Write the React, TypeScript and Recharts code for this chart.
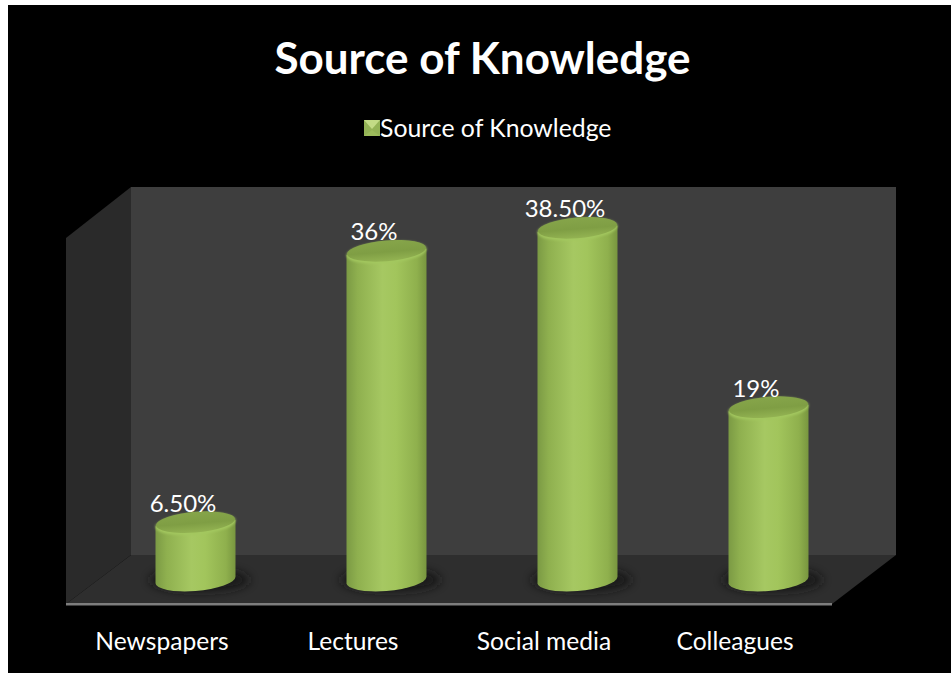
import { Bar, BarChart, LabelList, Legend, XAxis, YAxis } from 'recharts';

const categories = ['Newspapers', 'Lectures', 'Social media', 'Colleagues'];
const shares = [6.5, 36, 38.5, 19];
const shareLabels = ['6.50%', '36%', '38.50%', '19%'];
const seriesName = 'Source of Knowledge';

const chartData = categories.map((name, i) => ({ name, share: shares[i], label: shareLabels[i] }));

const FONT = 'Lato, Carlito, sans-serif';
const RY = 11;

// one cylinder, sheared a little so the ellipses lean like a perspective view
function Cylinder(props: any) {
  const { x, y, width, height } = props;
  const rx = width / 2;
  const cx = x + rx;
  const bottom = y + height - 3;
  const shear = `translate(${cx} 0) skewY(-4.5) translate(${-cx} 0)`;
  const body = `M${x} ${y} L${x} ${bottom} A${rx} ${RY} 0 0 0 ${x + width} ${bottom} L${x + width} ${y} Z`;
  return (
    <g>
      <ellipse cx={cx + 4} cy={bottom} rx={rx + 10} ry={RY + 1} fill="#141414" opacity={0.85} filter="url(#footBlur)" />
      <g transform={shear}>
        <path d={body} fill="url(#cylBody)" />
        <ellipse cx={cx} cy={y + 0.5} rx={rx} ry={RY} fill="#a3c75f" filter="url(#rimBlur)" />
        <ellipse cx={cx} cy={y - 1} rx={rx - 0.5} ry={RY - 0.6} fill="url(#cylTop)" />
      </g>
    </g>
  );
}

function ShareLabel(props: any) {
  const { x, y, width, value } = props;
  return (
    <text x={x + width / 2 - 12.5} y={y - 20} dy="0.36em" textAnchor="middle" fill="#fff" fontFamily={FONT} fontSize={24}>
      {value}
    </text>
  );
}

function LegendRow() {
  return (
    <div style={{ position: 'absolute', left: 364, top: 112, display: 'flex', alignItems: 'center', height: 30, whiteSpace: 'nowrap' }}>
      <svg width={16} height={16} style={{ marginTop: 2 }}>
        <rect width={16} height={16} fill="#94b356" />
        <polygon points="0,0 16,0 8,9" fill="#c3db86" />
        <polygon points="0,16 16,16 8,10" fill="#9dbc5c" />
      </svg>
      <span style={{ color: '#fff', fontFamily: FONT, fontSize: 24.8 }}>{seriesName}</span>
    </div>
  );
}

export default function App() {
  return (
    <div style={{ position: 'absolute', left: 0, top: 0, width: 951, height: 673, background: '#fff', overflow: 'hidden' }}>
      <div style={{ position: 'absolute', left: 8, top: 5, width: 943, height: 668, background: '#000' }} />

      {/* back wall, side wall, floor */}
      <svg width={951} height={673} style={{ position: 'absolute', left: 0, top: 0 }}>
        <rect x={131} y={187} width={765} height={368} fill="#3e3e3e" />
        <polygon points="66,238 131,187 131,555 66,604" fill="#2a2a2a" />
        <polygon points="66,604 131,555 896,555 832,604" fill="#2e2e2e" />
        <rect x={66} y={603} width={766} height={2.5} fill="#7d7d7d" />
      </svg>

      <div style={{ position: 'absolute', left: 0, top: 29, width: 965, textAlign: 'center', color: '#fff', fontFamily: FONT, fontWeight: 700, fontSize: 44, lineHeight: '56px' }}>
        {seriesName}
      </div>

      <div style={{ position: 'absolute', left: 0, top: 0 }}>
        <BarChart
          width={951}
          height={673}
          data={chartData}
          margin={{ top: 169, right: 87.5, bottom: 0, left: 99.5 }}
          barCategoryGap={0}
        >
          <defs>
            <linearGradient id="cylBody" x1="0" y1="0" x2="1" y2="0">
              <stop offset="0%" stopColor="#7b9a44" />
              <stop offset="14%" stopColor="#8fb04f" />
              <stop offset="45%" stopColor="#a6c862" />
              <stop offset="62%" stopColor="#a2c55c" />
              <stop offset="88%" stopColor="#8fb04d" />
              <stop offset="100%" stopColor="#78963f" />
            </linearGradient>
            <linearGradient id="cylTop" x1="0" y1="0" x2="0" y2="1">
              <stop offset="0%" stopColor="#86a54a" />
              <stop offset="55%" stopColor="#7f9e44" />
              <stop offset="100%" stopColor="#93b352" />
            </linearGradient>
            <filter id="footBlur" x="-30%" y="-60%" width="160%" height="220%">
              <feGaussianBlur stdDeviation="5" />
            </filter>
            <filter id="rimBlur" x="-10%" y="-30%" width="120%" height="160%">
              <feGaussianBlur stdDeviation="1" />
            </filter>
          </defs>
          <XAxis
            dataKey="name"
            axisLine={false}
            tickLine={false}
            tickMargin={44}
            height={90}
            interval={0}
            tick={{ fill: '#fff', fontSize: 24.6, fontFamily: FONT, dx: -33 }}
          />
          <YAxis hide domain={[0, 45]} />
          <Bar dataKey="share" name={seriesName} barSize={80} shape={<Cylinder />} isAnimationActive={false}>
            <LabelList dataKey="label" content={<ShareLabel />} />
          </Bar>
          <Legend content={() => null} height={0} />
        </BarChart>
      </div>

      <LegendRow />
    </div>
  );
}
